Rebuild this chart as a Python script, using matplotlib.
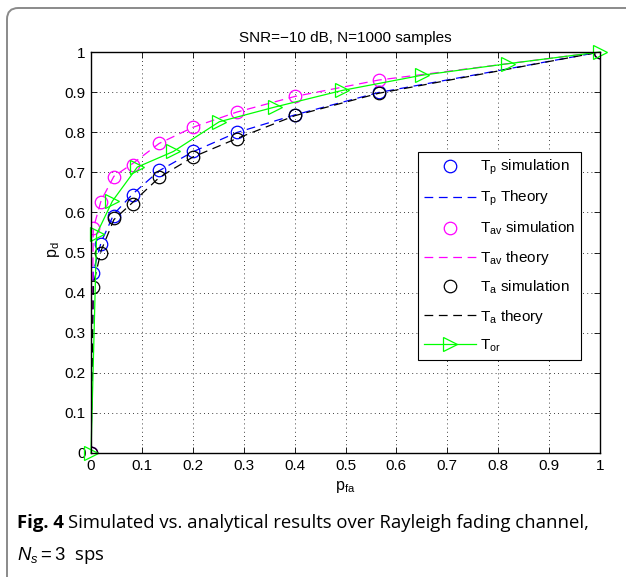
import matplotlib

matplotlib.use("Agg")
import matplotlib.pyplot as plt
from matplotlib.patches import FancyBboxPatch
from matplotlib.ticker import FormatStrFormatter

# false-alarm probabilities of the simulated / theory points
pfa_sim = [0, 0.0045, 0.02, 0.045, 0.082, 0.134, 0.2, 0.286, 0.40, 0.565, 1.0]

tp_sim = [0, 0.448, 0.522, 0.592, 0.644, 0.705, 0.752, 0.800, 0.844, 0.900, 1.0]
tp_theory = [0, 0.452, 0.526, 0.596, 0.646, 0.704, 0.751, 0.799, 0.843, 0.899, 1.0]

tav_sim = [0, 0.562, 0.627, 0.688, 0.717, 0.773, 0.813, 0.851, 0.890, 0.931, 1.0]
tav_theory = [0, 0.560, 0.630, 0.690, 0.722, 0.772, 0.812, 0.850, 0.889, 0.930, 1.0]

ta_sim = [0, 0.414, 0.500, 0.586, 0.621, 0.689, 0.739, 0.783, 0.842, 0.898, 1.0]
ta_theory = [0, 0.420, 0.505, 0.582, 0.625, 0.687, 0.738, 0.784, 0.841, 0.897, 1.0]

pfa_or = [0, 0.011, 0.042, 0.091, 0.162, 0.252, 0.362, 0.493, 0.65, 0.82, 1.0]
tor = [0, 0.546, 0.628, 0.713, 0.752, 0.826, 0.863, 0.904, 0.942, 0.971, 1.0]

tick_values = [i / 10 for i in range(11)]

plt.rcParams["font.family"] = ["Liberation Sans", "DejaVu Sans"]
plt.rcParams["mathtext.fontset"] = "custom"
plt.rcParams["mathtext.rm"] = "Liberation Sans"
plt.rcParams["mathtext.it"] = "Liberation Sans:italic"

W, H = 626, 577
fig = plt.figure(figsize=(W / 100, H / 100), dpi=100)
ax = fig.add_axes([91 / W, 1 - 453 / H, 509 / W, 401 / H])

# outer rounded frame of the journal figure
frame = FancyBboxPatch(
    (7 / W, -0.1), 1.2, 1.1 - 8 / H,
    boxstyle="round,pad=0,rounding_size=0.018",
    transform=fig.transFigure, fill=False, edgecolor="#8a8a8a", linewidth=1.4,
    mutation_aspect=W / H,
)
fig.patches.append(frame)

ms = 9
lw = 0.9
dash = (7, 4.5)
ax.plot(pfa_sim, tp_sim, "o", color="blue", mfc="none", ms=ms, mew=lw, label="T$_\\mathregular{p}$ simulation")
ax.plot(pfa_sim, tp_theory, "--", color="blue", lw=lw, dashes=dash, label="T$_\\mathregular{p}$ Theory")
ax.plot(pfa_sim, tav_sim, "o", color="magenta", mfc="none", ms=ms, mew=lw, label="T$_\\mathregular{av}$ simulation")
ax.plot(pfa_sim, tav_theory, "--", color="magenta", lw=lw, dashes=dash, label="T$_\\mathregular{av}$ theory")
ax.plot(pfa_sim, ta_sim, "o", color="black", mfc="none", ms=ms, mew=lw, label="T$_\\mathregular{a}$ simulation")
ax.plot(pfa_sim, ta_theory, "--", color="black", lw=lw, dashes=dash, label="T$_\\mathregular{a}$ theory")
ax.plot(pfa_or, tor, "->", color="#00ff00", mfc="none", ms=ms + 1, mew=lw, lw=lw, label="T$_\\mathregular{or}$",
        clip_on=False)

ax.set_xlim(0, 1)
ax.set_ylim(0, 1)
ax.set_xticks(tick_values)
ax.set_yticks(tick_values)
ax.xaxis.set_major_formatter(FormatStrFormatter("%g"))
ax.yaxis.set_major_formatter(FormatStrFormatter("%g"))
ax.tick_params(direction="in", top=True, right=True, length=4, width=0.6, labelsize=11, pad=4)
ax.grid(True, linestyle=(0, (1, 4)), color="black", linewidth=0.6)
for s in ax.spines.values():
    s.set_linewidth(1.0)

ax.set_title("SNR=\u221210 dB, N=1000 samples", fontsize=11, pad=7)
ax.set_xlabel("p$_\\mathregular{fa}$", fontsize=11.5)
ax.set_ylabel("p$_\\mathregular{d}$", fontsize=11.5)
ax.xaxis.set_label_coords(0.5, -0.065)
ax.yaxis.set_label_coords(-0.057, 0.506)

leg = ax.legend(
    loc="upper left", bbox_to_anchor=((418 - 91) / 509, (453 - 152) / 401),
    fontsize=11, handlelength=3.4, handletextpad=0.25, labelspacing=0.76,
    borderpad=0.4, borderaxespad=0, fancybox=False, framealpha=1, edgecolor="black",
)
leg.get_frame().set_linewidth(0.8)

# caption below the plot
fig.canvas.draw()
renderer = fig.canvas.get_renderer()
cap_font = ["Open Sans", "DejaVu Sans"]
cap_size = 13.3
t1 = fig.text(17 / W, 1 - 528 / H, "Fig. 4", fontsize=cap_size, fontweight="bold", family=cap_font)
bb = t1.get_window_extent(renderer)
fig.text(bb.x1 / W + 4 / W, 1 - 528 / H, "Simulated vs. analytical results over Rayleigh fading channel,",
         fontsize=cap_size, family=cap_font)
fig.text(17 / W, 1 - 560 / H, "$N_s = 3$  sps", fontsize=cap_size, family=cap_font)

fig.savefig("out.png", dpi=100)
